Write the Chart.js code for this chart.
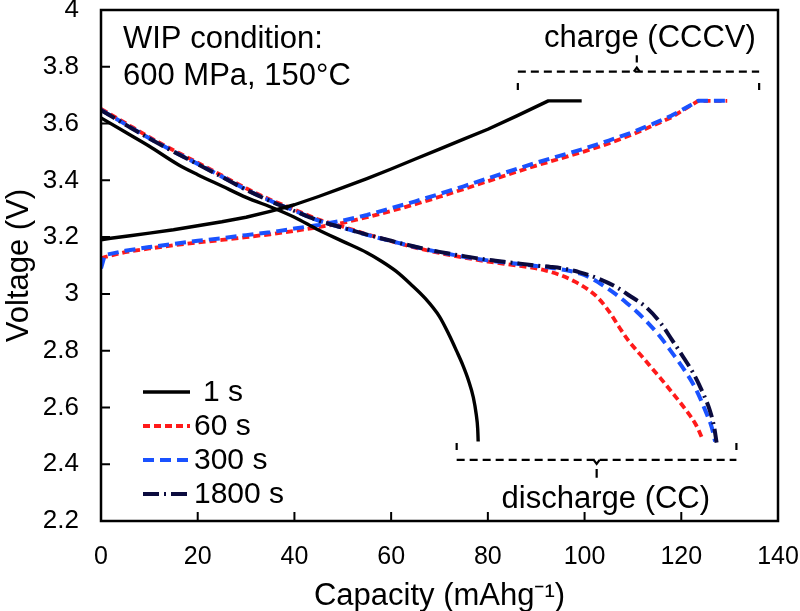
<!DOCTYPE html>
<html>
<head>
<meta charset="utf-8">
<script src="https://cdn.jsdelivr.net/npm/chart.js@4.4.1/dist/chart.umd.min.js"></script>
<style>
  html, body { margin: 0; padding: 0; background: #fff; }
  #wrap { width: 800px; height: 611px; position: relative; }
</style>
</head>
<body>
<div id="wrap"><canvas id="chart"></canvas></div>
<script>
// values (capacity in mAh/g, voltage in V)
const seriesLabels = ['1 s', '60 s', '300 s', '1800 s'];

const xTickValues = [0, 20, 40, 60, 80, 100, 120, 140];
const yTickValues = [2.2, 2.4, 2.6, 2.8, 3.0, 3.2, 3.4, 3.6, 3.8, 4.0];
const yTickLabels = ['2.2', '2.4', '2.6', '2.8', '3', '3.2', '3.4', '3.6', '3.8', '4'];

// 1 s
const dis1Cap = [0, 5, 10, 16, 20, 25, 30, 36, 40, 45, 50, 55, 58, 61, 64, 67, 70, 72, 73.5, 74.8, 76, 77, 77.6, 77.9, 78];
const dis1V   = [3.62, 3.57, 3.52, 3.455, 3.42, 3.38, 3.34, 3.30, 3.27, 3.225, 3.185, 3.145, 3.115, 3.08, 3.035, 2.985, 2.92, 2.855, 2.80, 2.75, 2.695, 2.635, 2.575, 2.525, 2.48];
const chg1Cap = [0, 2, 6, 10, 15, 20, 25, 30, 35, 40, 45, 50, 55, 60, 65, 70, 75, 80, 86, 92.5, 99.4];
const chg1V   = [3.19, 3.196, 3.205, 3.214, 3.226, 3.24, 3.254, 3.27, 3.291, 3.314, 3.343, 3.374, 3.406, 3.44, 3.475, 3.51, 3.545, 3.58, 3.627, 3.68, 3.68];

// 60 s
const dis60Cap = [0, 5, 10, 16, 20, 25, 30, 35, 40, 45, 50, 55, 60, 65, 70, 75, 80, 85, 90, 92, 95, 98, 101, 103, 105.2, 107, 109, 111.5, 113.5, 115.6, 118, 121, 123, 124.5];
const dis60V   = [3.652, 3.602, 3.552, 3.497, 3.462, 3.417, 3.372, 3.332, 3.297, 3.262, 3.237, 3.21, 3.186, 3.163, 3.144, 3.128, 3.114, 3.102, 3.09, 3.082, 3.066, 3.043, 3.012, 2.982, 2.935, 2.887, 2.837, 2.787, 2.747, 2.705, 2.655, 2.59, 2.54, 2.485];
const chg60Cap = [0, 0.8, 5, 10, 15, 20, 25, 30, 35, 40, 45, 50, 55, 60, 65, 70, 75, 80, 85, 90, 95, 100, 105, 110, 114, 118, 123.5, 129.5];
const chg60V   = [3.125, 3.13, 3.147, 3.16, 3.171, 3.181, 3.19, 3.2, 3.21, 3.222, 3.235, 3.25, 3.27, 3.292, 3.316, 3.342, 3.369, 3.397, 3.425, 3.452, 3.477, 3.502, 3.53, 3.562, 3.592, 3.622, 3.68, 3.68];

// 300 s
const dis300Cap = [0, 5, 10, 16, 20, 25, 30, 35, 40, 45, 50, 55, 60, 65, 70, 75, 80, 85, 90, 93, 96, 99, 101.5, 104, 106.5, 108.7, 110.8, 113, 115.6, 118, 121.1, 123, 125.2, 126.3, 127];
const dis300V   = [3.648, 3.598, 3.548, 3.493, 3.458, 3.413, 3.368, 3.328, 3.293, 3.258, 3.233, 3.208, 3.186, 3.165, 3.147, 3.131, 3.118, 3.108, 3.098, 3.092, 3.084, 3.072, 3.054, 3.028, 2.998, 2.968, 2.937, 2.9, 2.85, 2.795, 2.72, 2.665, 2.58, 2.53, 2.48];
const chg300Cap = [0, 0.8, 5, 10, 15, 20, 25, 30, 35, 40, 45, 50, 55, 60, 65, 70, 75, 80, 85, 90, 95, 100, 105, 110, 114, 118, 123.5, 129.5];
const chg300V   = [3.09, 3.137, 3.152, 3.165, 3.176, 3.187, 3.196, 3.207, 3.217, 3.23, 3.243, 3.258, 3.278, 3.302, 3.326, 3.352, 3.379, 3.407, 3.435, 3.462, 3.487, 3.512, 3.54, 3.57, 3.598, 3.628, 3.68, 3.68];

// 1800 s
const dis1800Cap = [0, 5, 10, 16, 20, 25, 30, 35, 40, 45, 50, 55, 60, 65, 70, 75, 80, 85, 90, 93, 96, 99, 103, 106.6, 109, 112.8, 115.6, 118, 120.5, 122.5, 124.5, 125.9, 126.8, 127.3];
const dis1800V   = [3.647, 3.597, 3.547, 3.492, 3.457, 3.412, 3.367, 3.327, 3.292, 3.258, 3.233, 3.209, 3.187, 3.166, 3.148, 3.133, 3.12, 3.11, 3.1, 3.095, 3.088, 3.076, 3.053, 3.024, 2.997, 2.952, 2.9, 2.84, 2.775, 2.72, 2.65, 2.59, 2.53, 2.476];

const fontFamily = '"Liberation Sans", Arial, Helvetica, sans-serif';

const styles = {
  '1 s':    { color: '#000000', width: 3.4, dash: [] },
  '60 s':   { color: '#ff1a1a', width: 3.8, dash: [7, 4] },
  '300 s':  { color: '#1a52ff', width: 4, dash: [11, 6] },
  '1800 s': { color: '#0b0b3e', width: 4, dash: [16, 5, 2, 5] }
};

function pts(xs, ys) {
  return xs.map((x, i) => ({ x: x, y: ys[i] }));
}

function ds(label, xs, ys, smooth) {
  const s = styles[label];
  return {
    label: label,
    data: pts(xs, ys),
    borderColor: s.color,
    backgroundColor: s.color,
    borderWidth: s.width,
    borderDash: s.dash,
    borderCapStyle: 'butt',
    borderJoinStyle: 'round',
    pointRadius: 0,
    showLine: true,
    fill: false,
    tension: 0,
    cubicInterpolationMode: smooth ? 'monotone' : 'default'
  };
}

// first dataset ends up drawn on top
const datasets = [
  ds('1 s', dis1Cap, dis1V, true),
  ds('1 s', chg1Cap, chg1V, false),
  ds('1800 s', dis1800Cap, dis1800V, true),
  ds('300 s', dis300Cap, dis300V, true),
  ds('300 s', chg300Cap, chg300V, false),
  ds('60 s', dis60Cap, dis60V, true),
  ds('60 s', chg60Cap, chg60V, false)
];

// bracket annotations in data coordinates
const chargeBracket = { x0: 86.2, x1: 136.1, xm: 110.8, y: 3.783, yEnd: 3.718, yMid: 3.841, text: 'charge (CCCV)', tx: 113.5, ty: 3.869 };
const dischargeBracket = { x0: 73.55, x1: 131.4, xm: 102.5, y: 2.415, yEnd: 2.475, yMid: 2.352, text: 'discharge (CC)', tx: 104.4, ty: 2.246 };
const noteLines = ['WIP condition:', '600 MPa, 150\u00B0C'];

function drawBracket(ctx, x, y, b) {
  ctx.save();
  ctx.strokeStyle = '#000';
  ctx.lineWidth = 2.2;
  ctx.setLineDash([8, 5]);
  const ly = y.getPixelForValue(b.y);
  ctx.beginPath();
  ctx.moveTo(x.getPixelForValue(b.x0), ly);
  ctx.lineTo(x.getPixelForValue(b.x1), ly);
  ctx.stroke();
  ctx.setLineDash([]);
  ctx.beginPath();
  [b.x0, b.x1].forEach(v => {
    const px = x.getPixelForValue(v);
    const ey = y.getPixelForValue(b.yEnd);
    const dir = ey > ly ? 1 : -1;
    ctx.moveTo(px, ey - dir * 7);
    ctx.lineTo(px, ey);
  });
  const mx = x.getPixelForValue(b.xm);
  const my = y.getPixelForValue(b.yMid);
  const dir = my > ly ? 1 : -1;
  ctx.moveTo(mx - 3, ly);
  ctx.lineTo(mx, ly + dir * 4);
  ctx.lineTo(mx + 3, ly);
  ctx.moveTo(mx, ly + dir * 9);
  ctx.lineTo(mx, my);
  ctx.stroke();
  ctx.fillStyle = '#000';
  ctx.font = '31px ' + fontFamily;
  ctx.textAlign = 'center';
  ctx.textBaseline = 'alphabetic';
  ctx.fillText(b.text, x.getPixelForValue(b.tx), y.getPixelForValue(b.ty));
  ctx.restore();
}

const frame = {
  id: 'frame',
  afterDraw(chart) {
    const { ctx, chartArea: a, scales: { x, y } } = chart;
    ctx.save();
    ctx.strokeStyle = '#000';
    ctx.lineWidth = 2.5;
    ctx.strokeRect(a.left, a.top, a.right - a.left, a.bottom - a.top);

    // inward tick marks
    ctx.lineWidth = 2;
    ctx.beginPath();
    x.ticks.forEach(t => {
      const px = x.getPixelForValue(t.value);
      ctx.moveTo(px, a.bottom);
      ctx.lineTo(px, a.bottom - 9);
    });
    y.ticks.forEach(t => {
      const py = y.getPixelForValue(t.value);
      ctx.moveTo(a.left, py);
      ctx.lineTo(a.left + 9, py);
    });
    ctx.stroke();

    // condition note
    ctx.fillStyle = '#000';
    ctx.font = '31px ' + fontFamily;
    ctx.textAlign = 'left';
    ctx.textBaseline = 'alphabetic';
    ctx.fillText(noteLines[0], a.left + 22, a.top + 38);
    ctx.fillText(noteLines[1], a.left + 22, a.top + 75);

    // legend inside the plot, bottom left
    ctx.font = '30px ' + fontFamily;
    ctx.textBaseline = 'middle';
    seriesLabels.forEach((lab, i) => {
      const s = styles[lab];
      const ry = a.bottom - 129 + i * 34;
      ctx.save();
      ctx.strokeStyle = s.color;
      ctx.lineWidth = s.width;
      ctx.setLineDash(s.dash);
      ctx.beginPath();
      ctx.moveTo(a.left + 42, ry);
      ctx.lineTo(a.left + 89, ry);
      ctx.stroke();
      ctx.restore();
      ctx.fillText(lab, a.left + (i === 0 ? 102 : 93), ry + 1);
    });
    ctx.restore();

    drawBracket(ctx, x, y, chargeBracket);
    drawBracket(ctx, x, y, dischargeBracket);
  }
};

function fixBox(s, w, h) {
  if (w !== null) s.width = w;
  if (h !== null) s.height = h;
  s.paddingTop = 0;
  s.paddingBottom = 0;
  s.paddingLeft = 0;
  s.paddingRight = 0;
}

window.onload = function() {
  const ctx = document.getElementById('chart').getContext('2d');
  new Chart(ctx, {
    type: 'scatter',
    data: { datasets: datasets },
    options: {
      responsive: true,
      maintainAspectRatio: false,
      animation: false,
      events: [],
      layout: { autoPadding: false, padding: { top: 10, right: 22, left: 0, bottom: 0 } },
      plugins: {
        legend: { display: false },
        tooltip: { enabled: false }
      },
      scales: {
        x: {
          type: 'linear',
          min: 0,
          max: 140,
          afterFit: s => fixBox(s, null, 90),
          afterBuildTicks: s => { s.ticks = xTickValues.map(v => ({ value: v })); },
          grid: { display: false, drawTicks: false },
          border: { display: false },
          ticks: {
            color: '#000',
            padding: 21,
            maxRotation: 0,
            font: { size: 25, family: fontFamily },
            callback: v => String(v)
          },
          title: {
            display: true,
            text: 'Capacity (mAhg\u207B\u00B9)',
            color: '#000',
            font: { size: 31, family: fontFamily, lineHeight: 1 },
            padding: { top: 0, bottom: -1 }
          }
        },
        y: {
          type: 'linear',
          min: 2.2,
          max: 4,
          afterFit: s => fixBox(s, 101, null),
          afterBuildTicks: s => { s.ticks = yTickValues.map(v => ({ value: v })); },
          grid: { display: false, drawTicks: false },
          border: { display: false },
          ticks: {
            color: '#000',
            padding: 22,
            font: { size: 26, family: fontFamily },
            callback: (v, i) => yTickLabels[i]
          },
          title: {
            display: true,
            text: 'Voltage (V)',
            color: '#000',
            font: { size: 31, family: fontFamily },
            padding: { top: 1, bottom: 0 }
          }
        }
      }
    },
    plugins: [frame]
  });
};
</script>
</body>
</html>
